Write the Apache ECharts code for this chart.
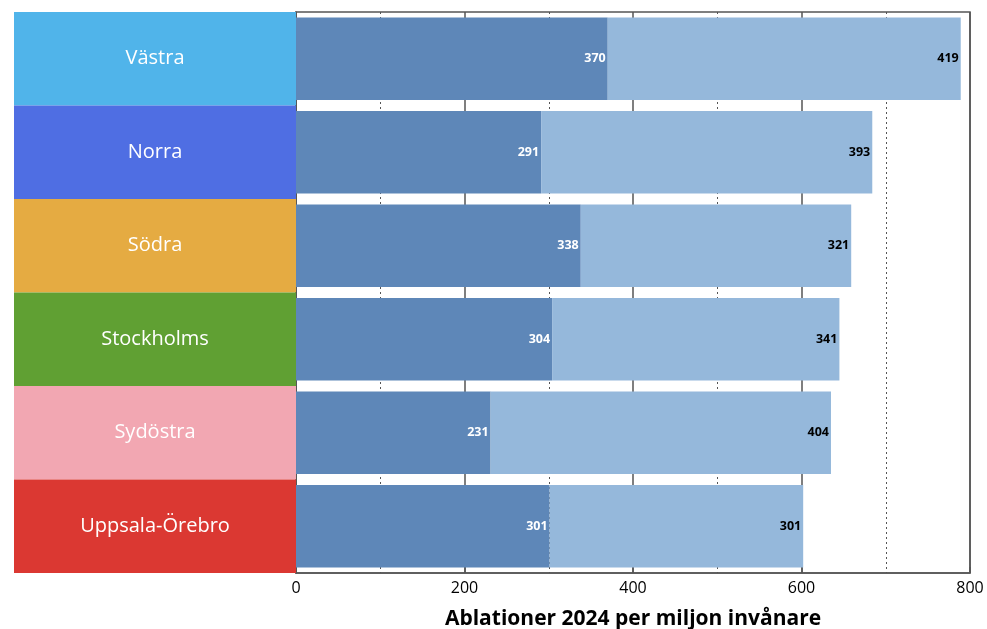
<!DOCTYPE html>
<html><head><meta charset="utf-8">
<script src="https://cdn.jsdelivr.net/npm/echarts@6/dist/echarts.min.js"></script>
<style>html,body{margin:0;padding:0;background:#fff}#c{width:987px;height:629px}</style>
</head><body><div id="c"></div>
<script>
const categories = ['Västra','Norra','Södra','Stockholms','Sydöstra','Uppsala-Örebro'];
const darkValues = [370,291,338,304,231,301];
const lightValues = [419,393,321,341,404,301];
const panelColors = ['#50b4ea','#4f6ee3','#e5ab42','#60a033','#f2a7b2','#db3832'];
const xTicks = [0,200,400,600,800];
const axisTitle = 'Ablationer 2024 per miljon invånare';

const FONT = '"Open Sans", "Noto Sans", sans-serif';
const chart = echarts.init(document.getElementById('c'));
chart.setOption({
  animation:false,
  textStyle:{fontFamily:FONT},
  grid:[
    {left:296, right:17, top:12, bottom:56, show:true, borderColor:'#555', borderWidth:1.5, backgroundColor:'transparent', outerBoundsMode:'none', containLabel:false},
    {left:14, width:282, top:12, bottom:56, outerBoundsMode:'none', containLabel:false}
  ],
  xAxis:[
    {gridIndex:0, type:'value', min:xTicks[0], max:xTicks[xTicks.length-1], interval:200,
     name:axisTitle, nameLocation:'middle', nameGap:36,
     nameTextStyle:{fontSize:21, fontWeight:'bold', color:'#000', fontFamily:FONT},
     axisLine:{show:true, lineStyle:{color:'#555', width:1.5}},
     axisTick:{show:true, inside:true, length:6, lineStyle:{color:'#555', width:1.5}},
     axisLabel:{fontSize:16, color:'#000', margin:7, fontFamily:FONT},
     splitLine:{show:true, lineStyle:{color:'#555', width:1.5}},
     minorTick:{show:false, splitNumber:2},
     minorSplitLine:{show:true, lineStyle:{color:'#555', width:1, type:[2,3]}}
    },
    {gridIndex:1, type:'value', min:0, max:1, show:false}
  ],
  yAxis:[
    {gridIndex:0, type:'category', data:categories, inverse:true,
     axisLine:{show:true, lineStyle:{color:'#555', width:1.5}}, axisTick:{show:false}, axisLabel:{show:false}},
    {gridIndex:1, type:'category', data:categories, inverse:true, show:false}
  ],
  series:[
    {type:'bar', xAxisIndex:1, yAxisIndex:1, barCategoryGap:'0%', silent:true,
     data:categories.map((c,i)=>({value:1, itemStyle:{color:panelColors[i]}})),
     label:{show:true, position:'inside', formatter:p=>p.name, color:'#fff', fontSize:20, fontFamily:FONT}
    },
    {type:'bar', stack:'a', data:darkValues, barCategoryGap:'12%', itemStyle:{color:'#5e87b8'},
     label:{show:true, position:'insideRight', color:'#fff', fontWeight:'bold', fontSize:12.5, distance:2, fontFamily:FONT}},
    {type:'bar', stack:'a', data:lightValues, barCategoryGap:'12%', itemStyle:{color:'#95b8db'},
     label:{show:true, position:'insideRight', color:'#000', fontWeight:'bold', fontSize:12.5, distance:2, fontFamily:FONT}}
  ]
});
</script></body></html>
